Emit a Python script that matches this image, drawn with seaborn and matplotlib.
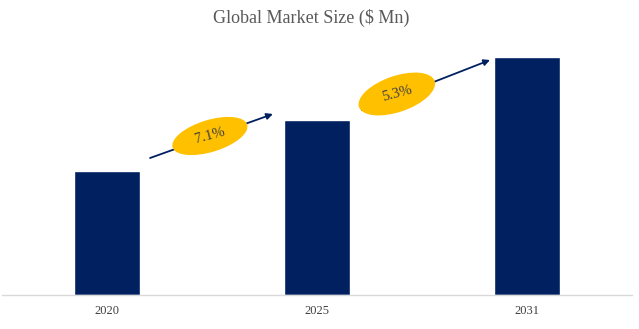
import matplotlib
matplotlib.use("Agg")
import matplotlib.pyplot as plt
import matplotlib.transforms as mtransforms
from matplotlib.patches import Ellipse
import seaborn as sns
import pandas as pd

years = ["2020", "2025", "2031"]
values = [124, 175, 238]
cagr_labels = ["7.1%", "5.3%"]

sns.set_style("white")
plt.rcParams["font.family"] = ["Liberation Serif", "DejaVu Serif"]

df = pd.DataFrame({"year": years, "value": values})

fig = plt.figure(figsize=(6.39, 3.29), dpi=100)
ax = fig.add_axes([2 / 639, 34 / 329, 630 / 639, 265 / 329])
sns.barplot(data=df, x="year", y="value", color="#002060", width=0.314,
            saturation=1, ax=ax)
ax.set_xlim(-0.5, 2.5)
ax.set_ylim(0, 265)
ax.set_xlabel("")
ax.set_ylabel("")
ax.set_yticks([])
for s in ["top", "right", "left"]:
    ax.spines[s].set_visible(False)
ax.spines["bottom"].set_color("#d9d9d9")
ax.spines["bottom"].set_linewidth(1.0)
ax.tick_params(axis="x", length=0, pad=7, labelsize=9, labelcolor="#404040")

fig.text(311 / 639, 1 - 18 / 329, "Global Market Size ($ Mn)", ha="center", va="center",
         fontsize=13, color="#595959")

# growth arrows between bars
arrows = [((0.205, 137), (0.79, 181)), ((1.214, 185), (1.824, 235))]
centers = [(0.49, 159), (1.38, 201)]
sizes = [(0.78, 0.32), (0.80, 0.36)]
angles = [17, 19]
for (start, end), c, sz, ang, lab in zip(arrows, centers, sizes, angles, cagr_labels):
    ax.annotate("", xy=end, xytext=start,
                arrowprops=dict(arrowstyle="-|>", color="#002060", lw=1.3,
                                mutation_scale=9, shrinkA=0, shrinkB=0))
    tr = fig.dpi_scale_trans + mtransforms.ScaledTranslation(c[0], c[1], ax.transData)
    ax.add_patch(Ellipse((0, 0), sz[0], sz[1], angle=ang, transform=tr,
                         facecolor="#FFC000", edgecolor="none", zorder=5))
    ax.text(c[0], c[1], lab, ha="center", va="center", rotation=15,
            fontsize=10.5, color="#404040", zorder=6)

fig.savefig("out.png", dpi=100)
